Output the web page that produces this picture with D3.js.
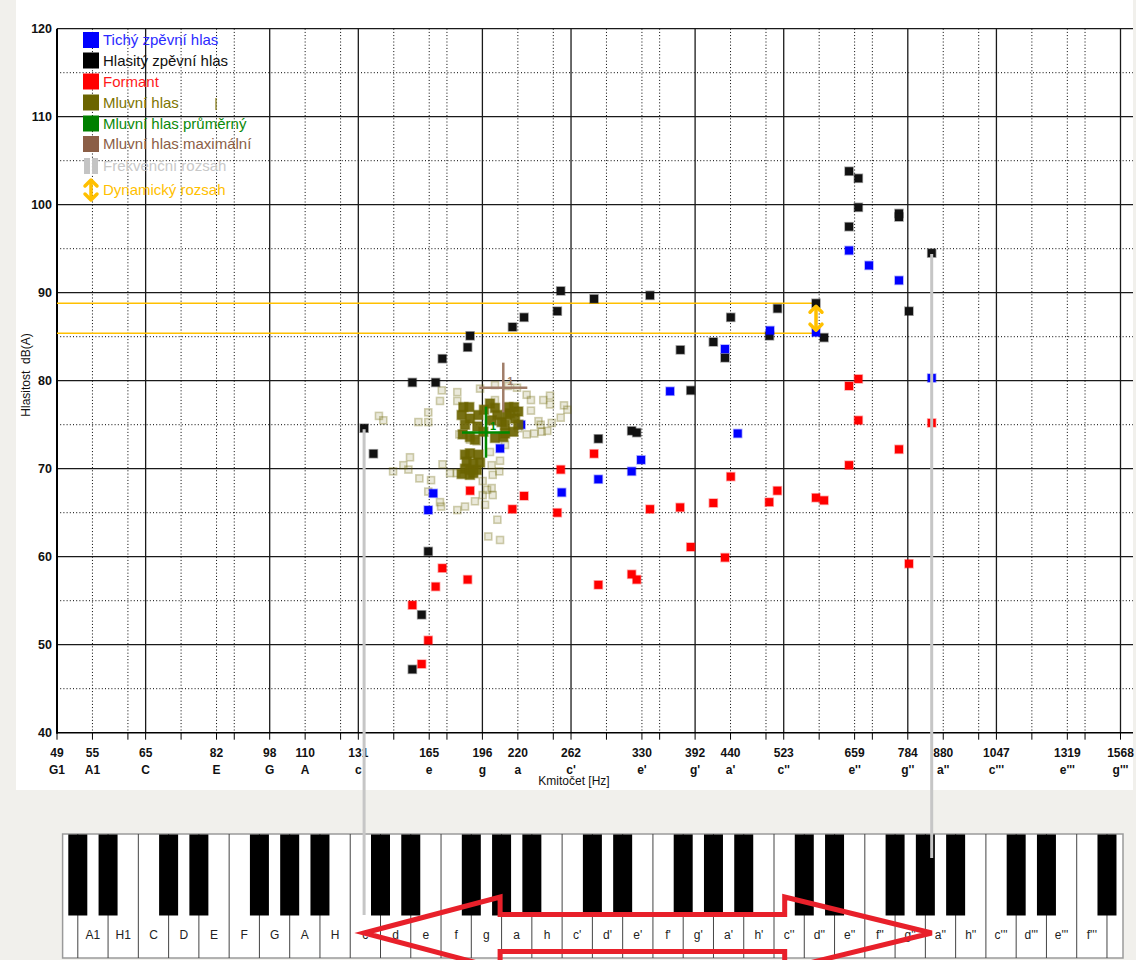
<!DOCTYPE html>
<html><head><meta charset="utf-8">
<script src="https://cdn.jsdelivr.net/npm/d3@7/dist/d3.min.js"></script>
<style>
body{margin:0;background:#f1f0ec;}
svg{display:block;}
text{font-family:"Liberation Sans",Arial,sans-serif;}
</style></head><body>
<svg id="c" width="1136" height="960"></svg>
<script>
// ---------------- DATA ----------------
const dbTicks = [40,50,60,70,80,90,100,110,120];
const gridNotes = ["A1","H1","C","D","E","F","G","A","H","c","d","e","f","g","a","h","c'","d'","e'","f'","g'","a'","h'","c''","d''","e''","f''","g''","a''","h''","c'''","d'''","e'''","f'''","g'''"];
const gridFreqs = [55,61.74,65.41,73.42,82.41,87.31,98,110,123.47,130.81,146.83,164.81,174.61,196,220,246.94,261.63,293.66,329.63,349.23,392,440,493.88,523.25,587.33,659.26,698.46,783.99,880,987.77,1046.5,1174.66,1318.51,1396.91,1567.98];
const tickFreqs = [49,55,65.41,82.41,98,110,130.81,164.81,196,220,261.63,329.63,392,440,523.25,659.26,783.99,880,1046.5,1318.51,1567.98];
const tickHz = ["49","55","65","82","98","110","131","165","196","220","262","330","392","440","523","659","784","880","1047","1319","1568"];
const tickNotes = ["G1","A1","C","E","G","A","c","e","g","a","c'","e'","g'","a'","c''","e''","g''","a''","c'''","e'''","g'''"];

const quietFreq = [164.3,167.0,207.6,222.3,253.8,286.0,318.8,328.7,361.3,432.1,450.4,500.4,581.3,647.4,690.9,761.8,847.5];
const quietDb   = [65.3,67.2,72.3,75.0,67.3,68.8,69.7,71.0,78.8,83.6,74.0,85.7,85.5,94.8,93.1,91.4,80.3];

const loudFreq = [133.3,137.4,156.0,156.0,160.8,164.3,168.3,172.0,186.8,188.3,216.2,224.5,250.2,253.0,282.0,286.0,318.8,324.1,338.4,373.6,386.5,416.0,432.1,440.3,499.5,512.8,581.3,596.7,647.4,647.4,667.3,667.3,761.8,761.8,787.0,847.5];
const loudDb   = [74.6,71.7,79.8,47.2,53.4,60.6,79.8,82.5,83.8,85.1,86.1,87.2,87.9,90.2,89.3,73.4,74.3,74.1,89.7,83.5,78.9,84.4,82.6,87.2,85.1,88.2,88.8,84.9,103.8,97.5,103.0,99.7,99.0,98.6,87.9,94.5];

const formantFreq = [156.0,160.8,164.3,168.3,172.0,186.8,188.3,216.1,224.5,250.2,253.0,282.0,286.0,318.8,324.1,338.4,373.3,386.5,416.0,432.1,440.3,499.1,512.5,581.3,596.7,647.4,647.4,667.3,667.3,761.8,787.0,847.5];
const formantDb   = [54.5,47.8,50.5,56.6,58.7,57.4,67.5,65.4,66.9,65.0,69.9,71.7,56.8,58.0,57.4,65.4,65.6,61.1,66.1,59.9,69.1,66.2,67.5,66.7,66.4,79.4,70.4,80.2,75.5,72.2,59.2,75.2];

const speechFreq = [139.9,141.9,159.1,164.3,164.3,171.7,180.6,170.7,180.6,154.8,151.5,154.0,146.5,159.6,165.8,172.1,176.4,180.3,164.3,170.7,171.3,180.6,185.2,191.3,196.2,196.2,202.0,207.6,207.1,202.7,202.0,202.7,205.8,199.8,207.6,200.9,211.0,220.3,181.8,188.2,192.4,204.2,204.2,194.5,226.4,229.6,239.0,244.3,244.3,255.7,258.5,253.0,229.6,235.3,237.0,245.7,226.4,232.1,237.8,242.2,213.1,219.4,197.7,199.0];
const speechDb   = [76.0,75.5,75.3,76.4,75.3,78.9,78.7,77.7,77.7,71.3,70.4,69.9,69.7,68.9,68.7,70.5,69.5,69.5,67.4,66.2,65.7,65.3,65.7,66.3,68.6,67.0,70.4,70.9,69.7,69.3,67.8,67.0,64.2,62.3,61.9,71.9,72.7,74.6,73.9,73.3,73.1,79.5,77.8,79.1,78.4,77.8,77.8,78.3,77.3,77.2,76.7,75.8,76.6,75.4,75.0,75.2,73.9,74.0,74.2,74.3,79.4,79.2,65.9,67.6];

const speechDenseFreq = [184.2,187.8,183.2,188.2,185.2,183.8,188.2,191.3,192.8,193.4,200.9,204.2,205.8,202.0,208.7,211.0,213.3,217.3,220.3,218.0,220.3,216.8,209.8,211.0,204.2,196.6,214.4,212.2,197.0,185.2,188.2,193.4,186.2,190.3,194.5,185.2,188.2,192.4,183.2,188.2,190.3];
const speechDenseDb   = [77.0,77.0,76.1,75.7,75.0,73.9,73.6,73.3,74.8,76.1,77.4,76.9,76.1,75.5,75.3,75.0,77.0,77.0,76.5,75.7,75.0,74.2,73.6,74.0,73.5,74.2,76.3,76.1,76.7,71.6,71.75,71.6,70.8,70.6,70.7,70.0,69.85,69.85,69.4,69.3,69.5];

// mean / max speech voice: [freqLow, freq, freqHigh], [dbLow, db, dbHigh]
const speechMeanFreq = [183.4,198.3,214.3];
const speechMeanDb   = [71.25,74.1,77.05];
const speechMaxFreq  = [194.0,209.8,226.9];
const speechMaxDb    = [76.4,79.2,82.05];

// frequency range [low, high] and dB at the markers
const rangeFreq = [133.3,847.5];
const rangeDb   = [74.6,94.5];
// dynamic range
const dynFreq = 581.3;
const dynDb   = [85.4,88.8];

const legendLabels = ["Tichý zpěvní hlas","Hlasitý zpěvní hlas","Formant","Mluvní hlas","Mluvní hlas průměrný","Mluvní hlas maximální","Frekvenční rozsah","Dynamický rozsah"];
const legendColors = ["#0000ff","#000000","#ff0000","#6b6400","#008000","#8b5e46","#c4c4c4","#ffc000"];
const legendText   = ["#2a2aff","#111111","#ff1a1a","#7d7400","#0a8a0a","#8b5e46","#c8c8c8","#ffc000"];

const pianoLabels = ["A1","H1","C","D","E","F","G","A","H","c","d","e","f","g","a","h","c'","d'","e'","f'","g'","a'","h'","c''","d''","e''","f''","g''","a''","h''","c'''","d'''","e'''","f'''"];

// ---------------- DRAW ----------------
const W=1136,H=960;
const svg=d3.select("#c");
const x=d3.scaleLog().domain([49,1568]).range([57,1120.5]);
const y=d3.scaleLinear().domain([40,120]).range([732.7,28.7]);
const plotL=57, plotR=1133;

svg.append("rect").attr("width",W).attr("height",H).attr("fill","#f1f0ec");
svg.append("rect").attr("x",16).attr("y",0).attr("width",plotR-16).attr("height",790).attr("fill","#fff");

const g=svg.append("g");
// horizontal grid
const hLines=d3.range(45,120,5);
g.selectAll(".hg").data(hLines).join("line")
 .attr("x1",plotL).attr("x2",plotR).attr("y1",d=>y(d)).attr("y2",d=>y(d))
 .attr("stroke",d=>d%10===0?"#1a1a1a":"#000")
 .attr("stroke-width",d=>d%10===0?1.3:1)
 .attr("stroke-dasharray",d=>d%10===0?null:"1,2.2");
g.append("line").attr("x1",plotL).attr("x2",plotR).attr("y1",y(120)).attr("y2",y(120)).attr("stroke","#1a1a1a").attr("stroke-width",1.3);
// vertical grid
const isSolid=n=>/^[cgCG]/.test(n);
g.selectAll(".vg").data(gridFreqs).join("line")
 .attr("x1",d=>x(d)).attr("x2",d=>x(d)).attr("y1",y(120)).attr("y2",y(40))
 .attr("stroke",(d,i)=>isSolid(gridNotes[i])?"#1a1a1a":"#000")
 .attr("stroke-width",(d,i)=>isSolid(gridNotes[i])?1.3:1)
 .attr("stroke-dasharray",(d,i)=>isSolid(gridNotes[i])?null:"1,2.2");
// axes lines
g.append("line").attr("x1",plotL).attr("x2",plotL).attr("y1",y(120)).attr("y2",y(40)+1).attr("stroke","#000").attr("stroke-width",2);
g.append("line").attr("x1",plotL).attr("x2",plotR).attr("y1",y(40)).attr("y2",y(40)).attr("stroke","#000").attr("stroke-width",1.6);
// x ticks
g.selectAll(".xt").data([49].concat(gridFreqs)).join("line")
 .attr("x1",d=>x(d)).attr("x2",d=>x(d)).attr("y1",y(40)).attr("y2",y(40)+7)
 .attr("stroke","#000").attr("stroke-width",1);
// y labels
g.selectAll(".yl").data(dbTicks).join("text")
 .attr("x",52).attr("y",d=>y(d)+4.5).attr("text-anchor","end")
 .attr("font-size",12.5).attr("font-weight","bold").attr("fill","#111").text(d=>d);
// x labels
g.selectAll(".xl").data(tickFreqs).join("text")
 .attr("x",d=>x(d)).attr("y",757).attr("text-anchor","middle")
 .attr("font-size",12).attr("font-weight","bold").attr("fill","#111").text((d,i)=>tickHz[i]);
g.selectAll(".xn").data(tickFreqs).join("text")
 .attr("x",d=>x(d)).attr("y",774).attr("text-anchor","middle")
 .attr("font-size",12).attr("font-weight","bold").attr("fill","#111").text((d,i)=>tickNotes[i]);
g.append("text").attr("x",574).attr("y",785).attr("text-anchor","middle").attr("font-size",12).attr("fill","#111").text("Kmitočet [Hz]");
g.append("text").attr("transform","translate(30,375) rotate(-90)").attr("text-anchor","middle").attr("font-size",12).attr("fill","#111").attr("xml:space","preserve").text("Hlasitost  dB(A)");

// dynamic range lines
const orange="#ffc000";
dynDb.forEach(v=>{
  g.append("line").attr("x1",plotL).attr("x2",x(dynFreq)).attr("y1",y(v)).attr("y2",y(v)).attr("stroke",orange).attr("stroke-width",1.5);
});

// markers
function squares(fa,da,fill,sz,op,sop){
  const s=svg.append("g");
  s.selectAll("rect").data(fa.map((f,i)=>[f,da[i]])).join("rect")
   .attr("x",d=>x(d[0])-sz/2).attr("y",d=>y(d[1])-sz/2).attr("width",sz).attr("height",sz)
   .attr("fill",fill).attr("fill-opacity",op).attr("stroke",fill).attr("stroke-opacity",sop).attr("stroke-width",1.6);
  return s;
}
squares(speechFreq,speechDb,"#6b6400",7,0.14,0.3);
squares(formantFreq,formantDb,"#ff0000",8,1,0.35);
squares(loudFreq,loudDb,"#111",8,1,0.4);
squares(quietFreq,quietDb,"#0000ff",8,1,0.35);
squares(speechDenseFreq,speechDenseDb,"#6b6400",9,0.92,0.5);

// crosses
function cross(fa,da,col,w){
  const c=svg.append("g").attr("stroke",col).attr("stroke-width",w);
  c.append("line").attr("x1",x(fa[0])).attr("x2",x(fa[2])).attr("y1",y(da[1])).attr("y2",y(da[1]));
  c.append("line").attr("x1",x(fa[1])).attr("x2",x(fa[1])).attr("y1",y(da[0])).attr("y2",y(da[2]));
  svg.append("text").attr("x",x(fa[1])+4).attr("y",y(da[1])-3).attr("font-size",11).attr("font-weight","bold").attr("fill",col).text("1");
}
cross(speechMaxFreq,speechMaxDb,"#a07d68",2.5);
cross(speechMeanFreq,speechMeanDb,"#008a00",2.5);

// dynamic range arrow
const ax=x(dynFreq), ya=y(dynDb[1])+3, yb=y(dynDb[0])-3;
const ar=svg.append("g").attr("stroke",orange).attr("stroke-width",3.5).attr("fill","none").attr("stroke-linecap","round").attr("stroke-linejoin","round");
ar.append("line").attr("x1",ax).attr("x2",ax).attr("y1",ya+1).attr("y2",yb-1);
ar.append("polyline").attr("points",`${ax-6},${ya+6} ${ax},${ya} ${ax+6},${ya+6}`);
ar.append("polyline").attr("points",`${ax-6},${yb-6} ${ax},${yb} ${ax+6},${yb-6}`);

// legend
const lg=svg.append("g");
const rowY=[40,60.5,81.5,102.5,123.5,144,166,190];
legendLabels.forEach((t,i)=>{
  const cy=rowY[i], col=legendColors[i];
  if(i<6){
    lg.append("rect").attr("x",83).attr("y",cy-8).attr("width",16).attr("height",16).attr("fill",col);
  } else if(i===6){
    lg.append("rect").attr("x",84).attr("y",cy-8).attr("width",6).attr("height",16).attr("fill",col);
    lg.append("rect").attr("x",92).attr("y",cy-8).attr("width",6).attr("height",16).attr("fill",col);
  } else {
    const a=lg.append("g").attr("stroke",col).attr("stroke-width",3.5).attr("fill","none").attr("stroke-linecap","round").attr("stroke-linejoin","round");
    a.append("line").attr("x1",91).attr("x2",91).attr("y1",cy-8).attr("y2",cy+8);
    a.append("polyline").attr("points",`85,${cy-4} 91,${cy-10} 97,${cy-4}`);
    a.append("polyline").attr("points",`85,${cy+4} 91,${cy+10} 97,${cy+4}`);
  }
  lg.append("text").attr("x",103).attr("y",cy+5).attr("font-size",15).attr("fill",legendText[i]).text(t);
});
lg.append("line").attr("x1",216).attr("x2",216).attr("y1",98).attr("y2",110).attr("stroke","#8a8020").attr("stroke-width",1.3);

// ---------------- PIANO ----------------
const pTop=834,pBot=958,pLeft=62.6,pRight=1123,bBot=915;
const k=d3.scaleLinear().domain([0,pianoLabels.length]).range([77.8,77.8+pianoLabels.length*30.27]);
const pg=svg.append("g");
pg.append("rect").attr("x",pLeft).attr("y",pTop).attr("width",pRight-pLeft).attr("height",pBot-pTop).attr("fill","#fff").attr("stroke","#9a9a9a").attr("stroke-width",1.5);
const bounds=d3.range(0,pianoLabels.length+1);
pg.selectAll(".sep").data(bounds).join("line")
 .attr("x1",d=>k(d)).attr("x2",d=>k(d)).attr("y1",pTop).attr("y2",pBot)
 .attr("stroke","#444").attr("stroke-width",1);
pg.selectAll(".kl").data(pianoLabels).join("text")
 .attr("x",(d,i)=>k(i+0.5)).attr("y",939).attr("text-anchor","middle").attr("font-size",12).attr("fill","#222").text(d=>d);
const hasBlack=i=> i===0 || /^[cdfgaCDFGA]/.test(pianoLabels[i-1]);
pg.selectAll(".bk").data(bounds.filter(hasBlack)).join("rect")
 .attr("x",d=>k(d)-9.5).attr("y",pTop+0.5).attr("width",19).attr("height",bBot-pTop).attr("fill","#000");

// red arrow spanning the frequency range
const xl=x(rangeFreq[0]), xr=x(rangeFreq[1]);
const tipY=933, headTop=897, sTop=914.5, sBot=951.5, headBot=2*tipY-headTop;
const lb=xl+136, rb=xr-147;
svg.append("polygon")
 .attr("points",[[xl,tipY],[lb,headTop],[lb,sTop],[rb,sTop],[rb,headTop],[xr,tipY],[rb,headBot],[rb,sBot],[lb,sBot],[lb,headBot]].map(p=>p.join(",")).join(" "))
 .attr("fill","none").attr("stroke","#e8202a").attr("stroke-width",5).attr("stroke-linejoin","miter");

// grey frequency range lines
svg.append("line").attr("x1",xl).attr("x2",xl).attr("y1",y(rangeDb[0])+1).attr("y2",915).attr("stroke","#c6c6c6").attr("stroke-width",3);
svg.append("line").attr("x1",xr).attr("x2",xr).attr("y1",y(rangeDb[1])+1).attr("y2",858).attr("stroke","#c6c6c6").attr("stroke-width",3);
</script>
</body></html>
